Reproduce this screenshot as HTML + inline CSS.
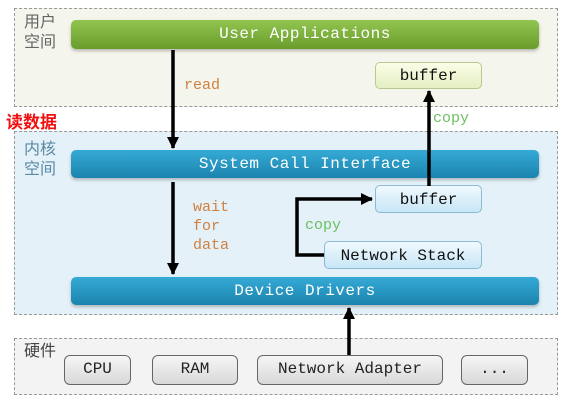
<!DOCTYPE html>
<html><head><meta charset="utf-8"><style>
body{margin:0;width:582px;height:400px;background:#fff;position:relative;overflow:hidden;font-family:"Liberation Mono","DejaVu Sans Mono",monospace}
.abs{position:absolute;box-sizing:border-box}
.dash{border:1.5px dashed #999}
.bar{border-radius:5px;color:#fff;font-size:16px;text-align:center;letter-spacing:0.5px}
.zh{font-family:"Liberation Sans","Noto Sans CJK SC",sans-serif;font-size:16px;color:#666;line-height:20px}
.bx{border-radius:5px;text-align:center;font-size:16px;color:#111}
.hw{background:linear-gradient(#f6f6f6,#d8d8d8);border:1.5px solid #666;border-radius:6px;text-align:center;font-size:16px;color:#222;line-height:27px}
</style></head><body>
<div class="abs dash" style="left:14px;top:8px;width:544px;height:99px;background:#f4f5ec"></div>
<div class="abs dash" style="left:14px;top:131px;width:544px;height:184px;background:#e4f1f8"></div>
<div class="abs dash" style="left:14px;top:338px;width:544px;height:57px;background:#f3f3f3"></div>

<div class="abs zh" style="left:24px;top:13px">用户<br>空间</div>
<div class="abs zh" style="left:24px;top:140px;color:#5a8aa6">内核<br>空间</div>
<div class="abs zh" style="left:24px;top:342px;color:#444">硬件</div>
<div class="abs" style="left:6px;top:108px;font-family:'Liberation Sans','Noto Sans CJK SC',sans-serif;font-weight:bold;color:#f01010;font-size:17px">读数据</div>

<div class="abs bar" style="left:71px;top:20px;width:468px;height:29px;line-height:29px;background:linear-gradient(#92c450,#6a9c2c);box-shadow:0 2px 3px rgba(0,0,0,.25)">User Applications</div>
<div class="abs bar" style="left:71px;top:150px;width:468px;height:28px;line-height:28px;background:linear-gradient(#35aad6,#1b84ae);box-shadow:0 2px 3px rgba(0,0,0,.25)">System Call Interface</div>
<div class="abs bar" style="left:71px;top:277px;width:468px;height:28px;line-height:28px;background:linear-gradient(#35aad6,#1b84ae);box-shadow:0 2px 3px rgba(0,0,0,.25)">Device Drivers</div>

<div class="abs bx" style="left:375px;top:62px;width:107px;height:27px;line-height:27px;background:linear-gradient(#fbfde8,#e4efc2);border:1px solid #b8c990">buffer</div>
<div class="abs bx" style="left:375px;top:185px;width:107px;height:28px;line-height:28px;background:linear-gradient(#f0f9fe,#c8e6f6);border:1px solid #8fb9d1">buffer</div>
<div class="abs bx" style="left:324px;top:241px;width:158px;height:28px;line-height:28px;background:linear-gradient(#f0f9fe,#c8e6f6);border:1px solid #8fb9d1">Network Stack</div>

<div class="abs hw" style="left:64px;top:355px;width:67px;height:30px">CPU</div>
<div class="abs hw" style="left:152px;top:355px;width:86px;height:30px">RAM</div>
<div class="abs hw" style="left:257px;top:355px;width:186px;height:30px">Network Adapter</div>
<div class="abs hw" style="left:461px;top:355px;width:67px;height:30px">...</div>

<div class="abs" style="left:184px;top:77px;color:#d08040;font-size:15px">read</div>
<div class="abs" style="left:193px;top:198px;color:#d08040;font-size:15px;line-height:19px">wait<br>for<br>data</div>
<div class="abs" style="left:433px;top:110px;color:#6cc060;font-size:15px">copy</div>
<div class="abs" style="left:305px;top:217px;color:#6cc060;font-size:15px">copy</div>

<svg class="abs" style="left:0;top:0" width="582" height="400">
<defs><marker id="b" markerWidth="12" markerHeight="12" refX="11" refY="6" orient="auto" markerUnits="userSpaceOnUse"><path d="M0,0 L12,6 L0,12z" fill="#000"/></marker></defs>
<g stroke="#000" stroke-width="3.5" fill="none">
<line x1="173" y1="50" x2="173" y2="148" marker-end="url(#b)"/>
<line x1="173" y1="182" x2="173" y2="274" marker-end="url(#b)"/>
<line x1="429" y1="186" x2="429" y2="91" marker-end="url(#b)"/>
<line x1="349" y1="355" x2="349" y2="308" marker-end="url(#b)"/>
<polyline points="324,255 297,255 297,199 372,199" marker-end="url(#b)"/>
</g></svg>
</body></html>
